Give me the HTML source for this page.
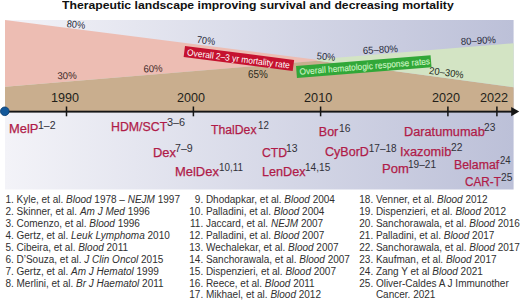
<!DOCTYPE html><html><head><meta charset="utf-8"><style>html,body{margin:0;padding:0;}body{width:520px;height:301px;position:relative;overflow:hidden;background:#fff;font-family:"Liberation Sans", sans-serif;}i{font-style:italic;}</style></head><body><svg width="520" height="301" viewBox="0 0 520 301" style="position:absolute;left:0;top:0"><defs><linearGradient id="bg" x1="0" y1="0" x2="1" y2="0"><stop offset="0" stop-color="#f3f3f8"/><stop offset="1" stop-color="#bcc0d8"/></linearGradient></defs><rect x="5" y="20" width="508.6" height="169.5" fill="url(#bg)"/><polygon points="5,20 315,59.6 318,60.8 5,86.7" fill="#edbdb3"/><polygon points="5,86.7 318,60.8 513.6,87.3 513.6,111.6 5,111.6" fill="#c9ae8e"/><polygon points="315,59.6 513.6,43.3 513.6,87.3 318,60.8" fill="#d3e4c4"/><rect x="5" y="110.69999999999999" width="507" height="1.9" fill="#151515"/><polygon points="511.2,107.1 519.2,111.6 511.2,116.2" fill="#151515"/><rect x="65.75" y="106.5" width="1.5" height="9.8" fill="#151515"/><rect x="192.65" y="106.5" width="1.5" height="9.8" fill="#151515"/><rect x="319.85" y="106.5" width="1.5" height="9.8" fill="#151515"/><rect x="447.15" y="106.5" width="1.5" height="9.8" fill="#151515"/><rect x="496.15" y="106.5" width="1.5" height="9.8" fill="#151515"/><circle cx="4.8" cy="111.3" r="4.3" fill="#13589a" stroke="#0b3f74" stroke-width="0.9"/></svg>
<div style="position:absolute;left:185.2px;top:45.8px;width:110.2px;height:11.4px;background:#c5122f;transform-origin:0 0;transform:rotate(7.3deg);font-size:9px;line-height:11.4px;color:#fff;white-space:nowrap;padding-left:3.0px;box-sizing:border-box;"><div style="transform-origin:0 50%;transform:scaleX(0.935);position:relative;top:0.4px;padding-top:0.4px">Overall 2–3 yr mortality rate</div></div>
<div style="position:absolute;left:296.4px;top:66.0px;width:134.8px;height:11.6px;background:#31a738;transform-origin:0 0;transform:rotate(-4.6deg);font-size:9px;line-height:11.6px;color:#c8f2c0;white-space:nowrap;padding-left:2.6px;box-sizing:border-box;"><div style="transform-origin:0 50%;transform:scaleX(0.925);-webkit-text-stroke:0.15px #c8f2c0;position:relative;top:0.5px;padding-top:0.4px">Overall hematologic response rates</div></div>
<div style="position:absolute;left:5.40px;top:195.34px;font-size:10px;line-height:10px;color:#303030;white-space:nowrap;">1. Kyle, et al. <i>Blood</i> 1978 – <i>NEJM</i> 1997</div>
<div style="position:absolute;left:5.40px;top:207.22px;font-size:10px;line-height:10px;color:#303030;white-space:nowrap;">2. Skinner, et al. <i>Am J Med</i> 1996</div>
<div style="position:absolute;left:5.40px;top:219.09px;font-size:10px;line-height:10px;color:#303030;white-space:nowrap;">3. Comenzo, et al. <i>Blood</i> 1996</div>
<div style="position:absolute;left:5.40px;top:230.97px;font-size:10px;line-height:10px;color:#303030;white-space:nowrap;">4. Gertz, et al. <i>Leuk Lymphoma</i> 2010</div>
<div style="position:absolute;left:5.40px;top:242.86px;font-size:10px;line-height:10px;color:#303030;white-space:nowrap;">5. Cibeira, et al. <i>Blood</i> 2011</div>
<div style="position:absolute;left:5.40px;top:254.74px;font-size:10px;line-height:10px;color:#303030;white-space:nowrap;">6. D’Souza, et al. <i>J Clin Oncol</i> 2015</div>
<div style="position:absolute;left:5.40px;top:266.62px;font-size:10px;line-height:10px;color:#303030;white-space:nowrap;">7. Gertz, et al. <i>Am J Hematol</i> 1999</div>
<div style="position:absolute;left:5.40px;top:278.50px;font-size:10px;line-height:10px;color:#303030;white-space:nowrap;">8. Merlini, et al. <i>Br J Haematol</i> 2011</div>
<div style="position:absolute;left:173.20px;top:195.34px;font-size:10px;line-height:10px;color:#303030;white-space:nowrap;width:30px;text-align:right;">9.</div>
<div style="position:absolute;left:205.90px;top:195.34px;font-size:10px;line-height:10px;color:#303030;white-space:nowrap;">Dhodapkar, et al. <i>Blood</i> 2004</div>
<div style="position:absolute;left:173.20px;top:207.22px;font-size:10px;line-height:10px;color:#303030;white-space:nowrap;width:30px;text-align:right;">10.</div>
<div style="position:absolute;left:205.90px;top:207.22px;font-size:10px;line-height:10px;color:#303030;white-space:nowrap;">Palladini, et al. <i>Blood</i> 2004</div>
<div style="position:absolute;left:173.20px;top:219.09px;font-size:10px;line-height:10px;color:#303030;white-space:nowrap;width:30px;text-align:right;">11.</div>
<div style="position:absolute;left:205.90px;top:219.09px;font-size:10px;line-height:10px;color:#303030;white-space:nowrap;">Jaccard, et al. <i>NEJM</i> 2007</div>
<div style="position:absolute;left:173.20px;top:230.97px;font-size:10px;line-height:10px;color:#303030;white-space:nowrap;width:30px;text-align:right;">12.</div>
<div style="position:absolute;left:205.90px;top:230.97px;font-size:10px;line-height:10px;color:#303030;white-space:nowrap;">Palladini, et al. <i>Blood</i> 2007</div>
<div style="position:absolute;left:173.20px;top:242.86px;font-size:10px;line-height:10px;color:#303030;white-space:nowrap;width:30px;text-align:right;">13.</div>
<div style="position:absolute;left:205.90px;top:242.86px;font-size:10px;line-height:10px;color:#303030;white-space:nowrap;">Wechalekar, et al. <i>Blood</i> 2007</div>
<div style="position:absolute;left:173.20px;top:254.74px;font-size:10px;line-height:10px;color:#303030;white-space:nowrap;width:30px;text-align:right;">14.</div>
<div style="position:absolute;left:205.90px;top:254.74px;font-size:10px;line-height:10px;color:#303030;white-space:nowrap;">Sanchorawala, et al. <i>Blood</i> 2007</div>
<div style="position:absolute;left:173.20px;top:266.62px;font-size:10px;line-height:10px;color:#303030;white-space:nowrap;width:30px;text-align:right;">15.</div>
<div style="position:absolute;left:205.90px;top:266.62px;font-size:10px;line-height:10px;color:#303030;white-space:nowrap;">Dispenzieri, et al. <i>Blood</i> 2007</div>
<div style="position:absolute;left:173.20px;top:278.50px;font-size:10px;line-height:10px;color:#303030;white-space:nowrap;width:30px;text-align:right;">16.</div>
<div style="position:absolute;left:205.90px;top:278.50px;font-size:10px;line-height:10px;color:#303030;white-space:nowrap;">Reece, et al. <i>Blood</i> 2011</div>
<div style="position:absolute;left:173.20px;top:290.38px;font-size:10px;line-height:10px;color:#303030;white-space:nowrap;width:30px;text-align:right;">17.</div>
<div style="position:absolute;left:205.90px;top:290.38px;font-size:10px;line-height:10px;color:#303030;white-space:nowrap;">Mikhael, et al. <i>Blood</i> 2012</div>
<div style="position:absolute;left:343.20px;top:195.34px;font-size:10px;line-height:10px;color:#303030;white-space:nowrap;width:30px;text-align:right;">18.</div>
<div style="position:absolute;left:375.90px;top:195.34px;font-size:10px;line-height:10px;color:#303030;white-space:nowrap;">Venner, et al. <i>Blood</i> 2012</div>
<div style="position:absolute;left:343.20px;top:207.22px;font-size:10px;line-height:10px;color:#303030;white-space:nowrap;width:30px;text-align:right;">19.</div>
<div style="position:absolute;left:375.90px;top:207.22px;font-size:10px;line-height:10px;color:#303030;white-space:nowrap;">Dispenzieri, et al. <i>Blood</i> 2012</div>
<div style="position:absolute;left:343.20px;top:219.09px;font-size:10px;line-height:10px;color:#303030;white-space:nowrap;width:30px;text-align:right;">20.</div>
<div style="position:absolute;left:375.90px;top:219.09px;font-size:10px;line-height:10px;color:#303030;white-space:nowrap;">Sanchorawala, et al. <i>Blood</i> 2016</div>
<div style="position:absolute;left:343.20px;top:230.97px;font-size:10px;line-height:10px;color:#303030;white-space:nowrap;width:30px;text-align:right;">21.</div>
<div style="position:absolute;left:375.90px;top:230.97px;font-size:10px;line-height:10px;color:#303030;white-space:nowrap;">Palladini, et al. <i>Blood</i> 2017</div>
<div style="position:absolute;left:343.20px;top:242.86px;font-size:10px;line-height:10px;color:#303030;white-space:nowrap;width:30px;text-align:right;">22.</div>
<div style="position:absolute;left:375.90px;top:242.86px;font-size:10px;line-height:10px;color:#303030;white-space:nowrap;">Sanchorawala, et al. <i>Blood</i> 2017</div>
<div style="position:absolute;left:343.20px;top:254.74px;font-size:10px;line-height:10px;color:#303030;white-space:nowrap;width:30px;text-align:right;">23.</div>
<div style="position:absolute;left:375.90px;top:254.74px;font-size:10px;line-height:10px;color:#303030;white-space:nowrap;">Kaufman, et al. <i>Blood</i> 2017</div>
<div style="position:absolute;left:343.20px;top:266.62px;font-size:10px;line-height:10px;color:#303030;white-space:nowrap;width:30px;text-align:right;">24.</div>
<div style="position:absolute;left:375.90px;top:266.62px;font-size:10px;line-height:10px;color:#303030;white-space:nowrap;">Zang Y et al <i>Blood</i> 2021</div>
<div style="position:absolute;left:343.20px;top:278.50px;font-size:10px;line-height:10px;color:#303030;white-space:nowrap;width:30px;text-align:right;">25.</div>
<div style="position:absolute;left:375.90px;top:278.50px;font-size:10px;line-height:10px;color:#303030;white-space:nowrap;">Oliver-Caldes A J Immunother</div>
<div style="position:absolute;left:375.90px;top:290.38px;font-size:10px;line-height:10px;color:#303030;white-space:nowrap;">Cancer. 2021</div>
<div style="position:absolute;left:62.19px;top:0.47px;font-size:11.5px;line-height:11.5px;color:#111;font-weight:bold;white-space:nowrap;transform:scaleX(1.0604);transform-origin:0 0;">Therapeutic landscape improving survival and decreasing mortality</div>
<div style="position:absolute;left:66.25px;top:20.25px;font-size:10px;line-height:10px;color:#262838;white-space:nowrap;transform-origin:10.05px 5.05px;transform:rotate(5.5deg) scaleX(0.9275);">80%</div>
<div style="position:absolute;left:57.35px;top:70.85px;font-size:10px;line-height:10px;color:#3d2828;white-space:nowrap;transform-origin:10.05px 5.05px;transform:rotate(-2deg) scaleX(0.9689);">30%</div>
<div style="position:absolute;left:143.10px;top:63.85px;font-size:10px;line-height:10px;color:#3d2828;white-space:nowrap;transform-origin:10.10px 5.05px;transform:rotate(-3.5deg) scaleX(0.9531);">60%</div>
<div style="position:absolute;left:196.10px;top:35.95px;font-size:10px;line-height:10px;color:#262838;white-space:nowrap;transform-origin:10.10px 5.05px;transform:rotate(7deg) scaleX(0.9167);">70%</div>
<div style="position:absolute;left:248.40px;top:70.15px;font-size:10px;line-height:10px;color:#2a2a20;white-space:nowrap;transform-origin:10.10px 5.05px;transform:rotate(0deg) scaleX(0.9896);">65%</div>
<div style="position:absolute;left:316.45px;top:51.85px;font-size:10px;line-height:10px;color:#262838;white-space:nowrap;transform-origin:10.05px 5.05px;transform:rotate(5deg) scaleX(0.9275);">50%</div>
<div style="position:absolute;left:362.20px;top:45.05px;font-size:10px;line-height:10px;color:#262838;white-space:nowrap;transform-origin:18.40px 5.05px;transform:rotate(-3deg) scaleX(0.9609);">65–80%</div>
<div style="position:absolute;left:460.15px;top:35.95px;font-size:10px;line-height:10px;color:#262838;white-space:nowrap;transform-origin:18.35px 5.05px;transform:rotate(-3deg) scaleX(0.9582);">80–90%</div>
<div style="position:absolute;left:428.10px;top:68.35px;font-size:10px;line-height:10px;color:#1f2a20;white-space:nowrap;transform-origin:18.40px 5.05px;transform:rotate(7.5deg) scaleX(0.9497);">20–30%</div>
<div style="position:absolute;left:50.56px;top:91.54px;font-size:12px;line-height:12px;color:#231f1a;white-space:nowrap;transform:scaleX(1.0474);transform-origin:0 0;">1990</div>
<div style="position:absolute;left:177.17px;top:91.54px;font-size:12px;line-height:12px;color:#231f1a;white-space:nowrap;transform:scaleX(1.0469);transform-origin:0 0;">2000</div>
<div style="position:absolute;left:304.36px;top:91.54px;font-size:12px;line-height:12px;color:#231f1a;white-space:nowrap;transform:scaleX(1.0586);transform-origin:0 0;">2010</div>
<div style="position:absolute;left:431.87px;top:91.54px;font-size:12px;line-height:12px;color:#231f1a;white-space:nowrap;transform:scaleX(1.0508);transform-origin:0 0;">2020</div>
<div style="position:absolute;left:479.97px;top:91.54px;font-size:12px;line-height:12px;color:#231f1a;white-space:nowrap;transform:scaleX(1.0549);transform-origin:0 0;">2022</div>
<div style="position:absolute;left:9.17px;top:122.62px;font-size:12.5px;line-height:12.5px;color:#b01b48;white-space:nowrap;transform:scaleX(1.0336);transform-origin:0 0;-webkit-text-stroke:0.25px #b01b48;">MelP</div>
<div style="position:absolute;left:38.16px;top:120.72px;font-size:10px;line-height:10px;color:#303038;white-space:nowrap;transform:scaleX(1.0519);transform-origin:0 0;">1–2</div>
<div style="position:absolute;left:110.91px;top:120.92px;font-size:12.5px;line-height:12.5px;color:#b01b48;white-space:nowrap;transform:scaleX(0.9874);transform-origin:0 0;-webkit-text-stroke:0.25px #b01b48;">HDM/SCT</div>
<div style="position:absolute;left:167.16px;top:118.02px;font-size:10px;line-height:10px;color:#303038;white-space:nowrap;transform:scaleX(1.0881);transform-origin:0 0;">3–6</div>
<div style="position:absolute;left:211.41px;top:123.62px;font-size:12.5px;line-height:12.5px;color:#b01b48;white-space:nowrap;transform:scaleX(0.9783);transform-origin:0 0;-webkit-text-stroke:0.25px #b01b48;">ThalDex</div>
<div style="position:absolute;left:258.02px;top:120.92px;font-size:10px;line-height:10px;color:#303038;white-space:nowrap;transform:scaleX(0.9694);transform-origin:0 0;">12</div>
<div style="position:absolute;left:152.77px;top:146.62px;font-size:12.5px;line-height:12.5px;color:#b01b48;white-space:nowrap;transform:scaleX(1.0332);transform-origin:0 0;-webkit-text-stroke:0.25px #b01b48;">Dex</div>
<div style="position:absolute;left:175.47px;top:144.22px;font-size:10px;line-height:10px;color:#303038;white-space:nowrap;transform:scaleX(1.0637);transform-origin:0 0;">7–9</div>
<div style="position:absolute;left:174.96px;top:165.62px;font-size:12.5px;line-height:12.5px;color:#b01b48;white-space:nowrap;transform:scaleX(1.0364);transform-origin:0 0;-webkit-text-stroke:0.25px #b01b48;">MelDex</div>
<div style="position:absolute;left:218.81px;top:163.12px;font-size:10px;line-height:10px;color:#303038;white-space:nowrap;transform:scaleX(0.9870);transform-origin:0 0;">10,11</div>
<div style="position:absolute;left:261.71px;top:146.62px;font-size:12.5px;line-height:12.5px;color:#b01b48;white-space:nowrap;transform:scaleX(0.9755);transform-origin:0 0;-webkit-text-stroke:0.25px #b01b48;">CTD</div>
<div style="position:absolute;left:285.87px;top:143.53px;font-size:10px;line-height:10px;color:#303038;white-space:nowrap;transform:scaleX(1.0404);transform-origin:0 0;">13</div>
<div style="position:absolute;left:261.99px;top:165.82px;font-size:12.5px;line-height:12.5px;color:#b01b48;white-space:nowrap;transform:scaleX(1.0119);transform-origin:0 0;-webkit-text-stroke:0.25px #b01b48;">LenDex</div>
<div style="position:absolute;left:305.19px;top:163.22px;font-size:10px;line-height:10px;color:#303038;white-space:nowrap;transform:scaleX(1.0084);transform-origin:0 0;">14,15</div>
<div style="position:absolute;left:318.80px;top:126.42px;font-size:12.5px;line-height:12.5px;color:#b01b48;white-space:nowrap;-webkit-text-stroke:0.25px #b01b48;">Bor</div>
<div style="position:absolute;left:338.58px;top:123.72px;font-size:10px;line-height:10px;color:#303038;white-space:nowrap;transform:scaleX(1.0303);transform-origin:0 0;">16</div>
<div style="position:absolute;left:325.40px;top:146.02px;font-size:12.5px;line-height:12.5px;color:#b01b48;white-space:nowrap;transform:scaleX(1.0023);transform-origin:0 0;-webkit-text-stroke:0.25px #b01b48;">CyBorD</div>
<div style="position:absolute;left:368.80px;top:143.53px;font-size:10px;line-height:10px;color:#303038;white-space:nowrap;">17–18</div>
<div style="position:absolute;left:403.68px;top:125.52px;font-size:12.5px;line-height:12.5px;color:#b01b48;white-space:nowrap;transform:scaleX(1.0193);transform-origin:0 0;-webkit-text-stroke:0.25px #b01b48;">Daratumumab</div>
<div style="position:absolute;left:483.89px;top:122.72px;font-size:10px;line-height:10px;color:#303038;white-space:nowrap;transform:scaleX(1.0196);transform-origin:0 0;">23</div>
<div style="position:absolute;left:400.37px;top:146.12px;font-size:12.5px;line-height:12.5px;color:#b01b48;white-space:nowrap;transform:scaleX(1.0248);transform-origin:0 0;-webkit-text-stroke:0.25px #b01b48;">Ixazomib</div>
<div style="position:absolute;left:451.09px;top:143.12px;font-size:10px;line-height:10px;color:#303038;white-space:nowrap;transform:scaleX(1.0297);transform-origin:0 0;">22</div>
<div style="position:absolute;left:382.06px;top:162.62px;font-size:12.5px;line-height:12.5px;color:#b01b48;white-space:nowrap;transform:scaleX(1.0418);transform-origin:0 0;-webkit-text-stroke:0.25px #b01b48;">Pom</div>
<div style="position:absolute;left:408.29px;top:159.72px;font-size:10px;line-height:10px;color:#303038;white-space:nowrap;transform:scaleX(1.0075);transform-origin:0 0;">19–21</div>
<div style="position:absolute;left:454.32px;top:158.72px;font-size:12.5px;line-height:12.5px;color:#b01b48;white-space:nowrap;transform:scaleX(0.9844);transform-origin:0 0;-webkit-text-stroke:0.25px #b01b48;">Belamaf</div>
<div style="position:absolute;left:499.52px;top:156.32px;font-size:10px;line-height:10px;color:#303038;white-space:nowrap;transform:scaleX(0.9612);transform-origin:0 0;">24</div>
<div style="position:absolute;left:465.14px;top:175.62px;font-size:12.5px;line-height:12.5px;color:#b01b48;white-space:nowrap;transform:scaleX(0.9410);transform-origin:0 0;-webkit-text-stroke:0.25px #b01b48;">CAR-T</div>
<div style="position:absolute;left:501.09px;top:172.72px;font-size:10px;line-height:10px;color:#303038;white-space:nowrap;transform:scaleX(1.0196);transform-origin:0 0;">25</div></body></html>
